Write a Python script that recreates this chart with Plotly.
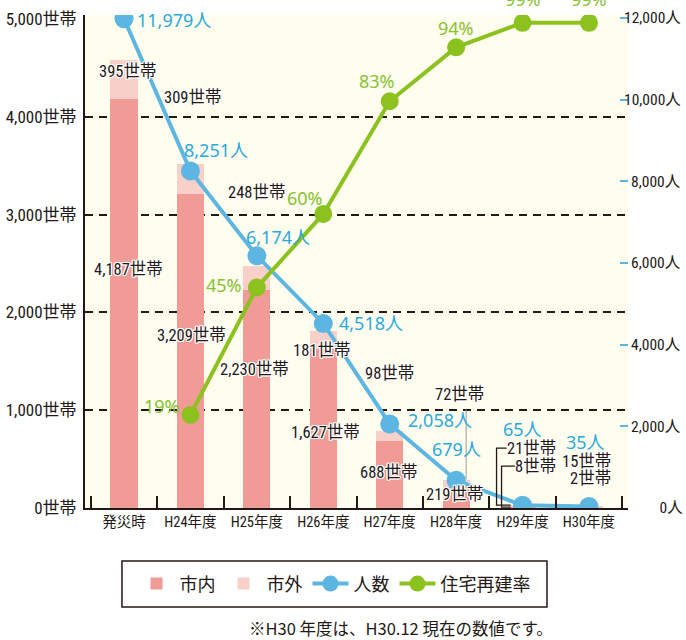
import plotly.graph_objects as go

# ---------------- data ----------------
categories = ["発災時", "H24年度", "H25年度", "H26年度", "H27年度", "H28年度", "H29年度", "H30年度"]
households_inside = [4187, 3209, 2230, 1627, 688, 219, 8, 2]      # 市内
households_outside = [395, 309, 248, 181, 98, 72, 21, 15]         # 市外
people = [11979, 8251, 6174, 4518, 2058, 679, 65, 35]             # 人数
rebuild_rate = [None, 19, 45, 60, 83, 94, 99, 99]                 # 住宅再建率 (%)
left_tick_values = [0, 1000, 2000, 3000, 4000, 5000]
grid_values = [1000, 2000, 3000, 4000]
right_tick_values = [0, 2000, 4000, 6000, 8000, 10000, 12000]
footnote = "※H30 年度は、H30.12 現在の数値です。"

# ---------------- styles ----------------
NARROW = "Roboto Condensed, Noto Sans CJK JP, sans-serif"
ROUND = "Noto Sans, Noto Sans CJK JP, sans-serif"
CJK = "Noto Sans CJK JP, sans-serif"
INK = "#231815"
C_IN = "#F19B96"
C_OUT = "#F8CFC9"
C_BLUE = "#5DB6E2"
C_BLUE_TXT = "#29A9E0"
C_GREEN = "#8CC220"
C_GREEN_TXT = "#86C232"
BG = "#FFFDEE"
HALO = "1px 1px 0 #fff, -1px -1px 0 #fff, 1px -1px 0 #fff, -1px 1px 0 #fff, 0 1px 0 #fff, 0 -1px 0 #fff, 1px 0 0 #fff, -1px 0 0 #fff"

LEFT_MAX = 5041
RIGHT_MAX = 12069
RATE_MAX = 100.6

# label offsets (pixels): (xshift, yshift)
outer_offsets = [(3, -12), (2, 66), (0, 73), (-2, -19), (0, 58), (3, 85), (9, 57), (-2, 45)]
inner_offsets = [(4, -171), (1, -141), (-2, -80), (2, -84), (-1, -32), (-2, -8), (13, 41), (2, 29)]
people_offsets = [(50, -1), (26, 21), (21, 19), (48, 0), (50, 4), (0, 31), (0, 76), (-3, 65)]
rate_offsets = [None, (-28, 9), (-33, 2), (-18, 16), (-13, 20), (0, 19), (0, 24), (0, 24)]

fig = go.Figure()

fig.add_trace(go.Bar(x=categories, y=households_inside, name="市内", marker=dict(color=C_IN, line_width=0),
                     yaxis="y", hoverinfo="skip"))
fig.add_trace(go.Bar(x=categories, y=households_outside, name="市外", marker=dict(color=C_OUT, line_width=0),
                     yaxis="y", hoverinfo="skip"))
fig.add_trace(go.Scatter(x=categories, y=people, name="人数", mode="lines+markers", yaxis="y2",
                         line=dict(color=C_BLUE, width=4), marker=dict(color=C_BLUE, size=19),
                         hoverinfo="skip"))
fig.add_trace(go.Scatter(x=categories, y=rebuild_rate, name="住宅再建率", mode="lines+markers", yaxis="y3",
                         line=dict(color=C_GREEN, width=4), marker=dict(color=C_GREEN, size=18),
                         hoverinfo="skip"))
# carrier for the labelled left axis
fig.add_trace(go.Scatter(x=[categories[0]], y=[None], yaxis="y4", showlegend=False, hoverinfo="skip",
                         mode="markers"))

annotations = []
for i, cat in enumerate(categories):
    total = households_inside[i] + households_outside[i]
    dx, dy = outer_offsets[i]
    annotations.append(dict(x=cat, y=total, xref="x", yref="y", text=f"{households_outside[i]:,}世帯",
                            showarrow=False, xshift=dx, yshift=dy,
                            font=dict(family=NARROW, size=16.5, color=INK, shadow=HALO)))
    dx, dy = inner_offsets[i]
    annotations.append(dict(x=cat, y=households_inside[i], xref="x", yref="y", text=f"{households_inside[i]:,}世帯",
                            showarrow=False, xshift=dx, yshift=dy,
                            font=dict(family=NARROW, size=16.5, color=INK, shadow=HALO)))
    dx, dy = people_offsets[i]
    annotations.append(dict(x=cat, y=people[i], xref="x", yref="y2", text=f"{people[i]:,}人",
                            showarrow=False, xshift=dx, yshift=dy,
                            font=dict(family=ROUND, size=18, color=C_BLUE_TXT)))
    if rebuild_rate[i] is not None:
        dx, dy = rate_offsets[i]
        annotations.append(dict(x=cat, y=rebuild_rate[i], xref="x", yref="y3", text=f"{rebuild_rate[i]}%",
                                showarrow=False, xshift=dx, yshift=dy,
                                font=dict(family=ROUND, size=18, color=C_GREEN_TXT)))

annotations.append(dict(x=0.866, y=-0.2434, xref="paper", yref="paper", xanchor="right", yanchor="middle",
                        text=footnote, showarrow=False, font=dict(family=CJK, size=16.5, color=INK)))

# leader lines / brackets for small values
i28 = categories.index("H28年度")
i29 = categories.index("H29年度")
shapes = [
    dict(type="path", xref="x", yref="y", xsizemode="pixel", ysizemode="pixel",
         xanchor=categories[i28], yanchor=households_inside[i28] + households_outside[i28],
         path="M 10 0 L 10 70", line=dict(color="#9a9a9a", width=1)),
    dict(type="path", xref="x", yref="y", xsizemode="pixel", ysizemode="pixel",
         xanchor=categories[i29], yanchor=households_inside[i29] + households_outside[i29],
         path="M -12 0 L -26 0 L -26 57 L -16 57", line=dict(color=INK, width=1.3)),
    dict(type="path", xref="x", yref="y", xsizemode="pixel", ysizemode="pixel",
         xanchor=categories[i29], yanchor=households_inside[i29],
         path="M -12 0 L -21 0 L -21 41 L -7 41", line=dict(color=INK, width=1.3)),
    # legend frame
    dict(type="rect", xref="paper", yref="paper", x0=0.0681, x1=0.8508, y0=-0.1075, y1=-0.2008,
         line=dict(color=INK, width=1.5), fillcolor="rgba(0,0,0,0)"),
]

NB = "\u00a0"
def pad_right_label(v):
    s = f"{v:,}"
    digits_missing = len(f"{12000:,}") - len(s)
    return NB * (digits_missing * 2) + s + "人"

fig.update_layout(
    width=686, height=640,
    margin=dict(l=85, r=58, t=15, b=132, autoexpand=False),
    paper_bgcolor="white", plot_bgcolor=BG,
    barmode="stack", bargap=0.59,
    font=dict(family=NARROW, color=INK),
    showlegend=True,
    legend=dict(orientation="h", x=0.4595, xanchor="center", y=-0.154, yanchor="middle",
                traceorder="normal", borderwidth=0, bgcolor="rgba(0,0,0,0)",
                font=dict(family=CJK, size=18, color=INK), itemwidth=36,
                entrywidth=0),
    xaxis=dict(type="category", ticks="inside", tickson="boundaries", ticklen=12, tickwidth=2,
               tickcolor=INK, showline=True, linecolor=INK, linewidth=2, showgrid=False,
               tickangle=0, automargin=False,
               tickfont=dict(family=NARROW, size=14.5, color=INK)),
    yaxis=dict(range=[0, LEFT_MAX], tickvals=grid_values, showticklabels=False, ticks="",
               showgrid=True, gridcolor=INK, gridwidth=1.5, griddash="8px,6px",
               showline=False, zeroline=False, automargin=False),
    yaxis4=dict(overlaying="y", side="left", range=[0, LEFT_MAX], tickvals=left_tick_values,
                ticktext=[f"{v:,}世帯" for v in left_tick_values], ticks="", showgrid=False,
                showline=True, linecolor=INK, linewidth=2, zeroline=False, automargin=False,
                ticklabelstandoff=3,
                tickfont=dict(family=NARROW, size=17, color=INK)),
    yaxis2=dict(overlaying="y", side="right", range=[0, RIGHT_MAX], tickvals=right_tick_values,
                ticktext=[pad_right_label(v) for v in right_tick_values], ticks="inside", ticklen=8,
                tickwidth=2, tickcolor=C_BLUE, showgrid=False, showline=False, zeroline=False,
                automargin=False, ticklabelstandoff=-5,
                tickfont=dict(family=NARROW, size=15.5, color=INK)),
    yaxis3=dict(overlaying="y", range=[0, RATE_MAX], visible=False),
    annotations=annotations,
    shapes=shapes,
)

fig.write_html("out.html", config={"displayModeBar": False},
               post_script="document.body.style.margin='0';document.body.style.overflow='hidden';")
